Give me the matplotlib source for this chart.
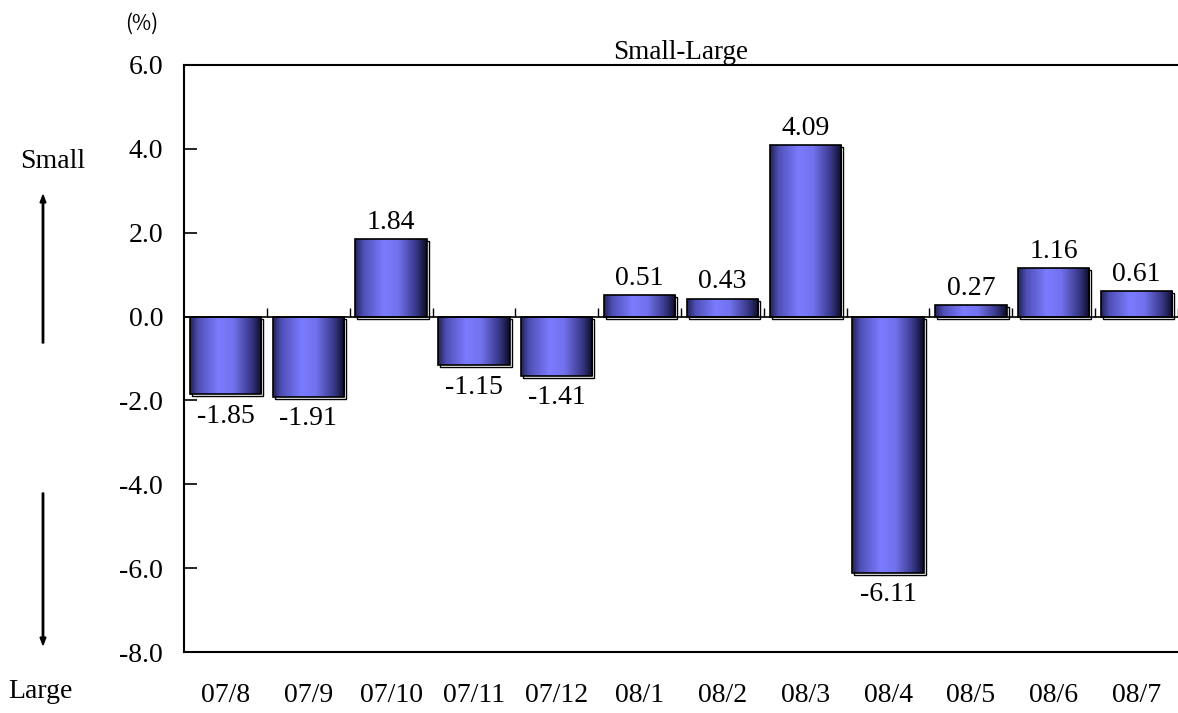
import matplotlib
matplotlib.use("Agg")
import matplotlib.pyplot as plt
import numpy as np
from matplotlib.colors import LinearSegmentedColormap
from matplotlib.patches import Rectangle, FancyArrow
from matplotlib.transforms import offset_copy

plt.rcParams['font.family'] = ['Liberation Serif', 'DejaVu Serif']

months = ['07/8', '07/9', '07/10', '07/11', '07/12', '08/1',
          '08/2', '08/3', '08/4', '08/5', '08/6', '08/7']
spread = [-1.85, -1.91, 1.84, -1.15, -1.41, 0.51,
          0.43, 4.09, -6.11, 0.27, 1.16, 0.61]
y_ticks = [6.0, 4.0, 2.0, 0.0, -2.0, -4.0, -6.0, -8.0]

BAR_WIDTH = 0.86
FONT_SIZE = 20
bar_cmap = LinearSegmentedColormap.from_list(
    'bar', [(0.0, '#22225a'), (0.12, '#5050b8'), (0.4, '#7b7bff'),
            (0.6, '#7272ee'), (0.85, '#383888'), (1.0, '#0c0c24')])
grad = np.linspace(0, 1, 256).reshape(1, -1)

fig = plt.figure(figsize=(11.78, 7.13), dpi=100)
ax = fig.add_axes([184 / 1178, 61 / 713, 994 / 1178, 587 / 713])

x = np.arange(len(months))

for xi, v in zip(x, spread):
    left = xi - BAR_WIDTH / 2
    lo, hi = min(0, v), max(0, v)
    # offset shadow box (right / down)
    shadow = Rectangle((left, lo), BAR_WIDTH, hi - lo, facecolor='white',
                       edgecolor='black', linewidth=1.0, zorder=2,
                       transform=offset_copy(ax.transData, fig=fig, x=2, y=-2, units='dots'))
    ax.add_patch(shadow)
    im = ax.imshow(grad, cmap=bar_cmap, aspect='auto', extent=(left, left + BAR_WIDTH, lo, hi),
                   zorder=3, interpolation='bilinear')
    rect = Rectangle((left, lo), BAR_WIDTH, hi - lo, facecolor='none',
                     edgecolor='black', linewidth=1.2, zorder=4)
    ax.add_patch(rect)
    im.set_clip_path(rect)
    if v >= 0:
        ax.annotate(f'{v:.2f}', (xi, v), xytext=(0, 3), textcoords='offset points',
                    ha='center', va='bottom', fontsize=FONT_SIZE)
    else:
        ax.annotate(f'{v:.2f}', (xi, v), xytext=(0, -7), textcoords='offset points',
                    ha='center', va='top', fontsize=FONT_SIZE)

ax.set_xlim(-0.5, len(months) - 0.5)
ax.set_ylim(-8, 6)

# zero line with category separator ticks
ax.axhline(0, color='black', linewidth=1.2, zorder=5)
ax.vlines(np.arange(len(months)) + 0.5, 0, 0.2, color='black', linewidth=1.0, zorder=5)

ax.set_yticks(y_ticks)
ax.set_yticklabels([f'{t:.1f}' for t in y_ticks], fontsize=FONT_SIZE)
ax.tick_params(axis='y', direction='in', length=9, width=1.2, pad=15)
ax.set_xticks(x)
ax.set_xticklabels(months, fontsize=FONT_SIZE)
ax.tick_params(axis='x', length=0, pad=22)

ax.spines['right'].set_visible(False)
for s in ['left', 'top', 'bottom']:
    ax.spines[s].set_linewidth(1.5)

ax.set_title('Small-Large', fontsize=19.5, pad=3)

fig.text(142 / 1178, 1 - 24 / 713, '(%)', ha='center', va='center', fontsize=15,
         family=['Noto Sans CJK JP', 'DejaVu Sans'])
fig.text(53 / 1178, 1 - 162 / 713, 'Small', ha='center', va='center', fontsize=FONT_SIZE)
fig.text(40 / 1178, 1 - 692 / 713, 'Large', ha='center', va='center', fontsize=FONT_SIZE)
fig.patches.append(FancyArrow(
    43 / 1178, 1 - 343 / 713, 0, (343 - 195) / 713, width=0.0012, head_width=0.005,
    head_length=0.011, length_includes_head=True, color='black', transform=fig.transFigure))
fig.patches.append(FancyArrow(
    43 / 1178, 1 - 493 / 713, 0, -(645 - 493) / 713, width=0.0012, head_width=0.005,
    head_length=0.011, length_includes_head=True, color='black', transform=fig.transFigure))

fig.savefig('out.png', dpi=100)
